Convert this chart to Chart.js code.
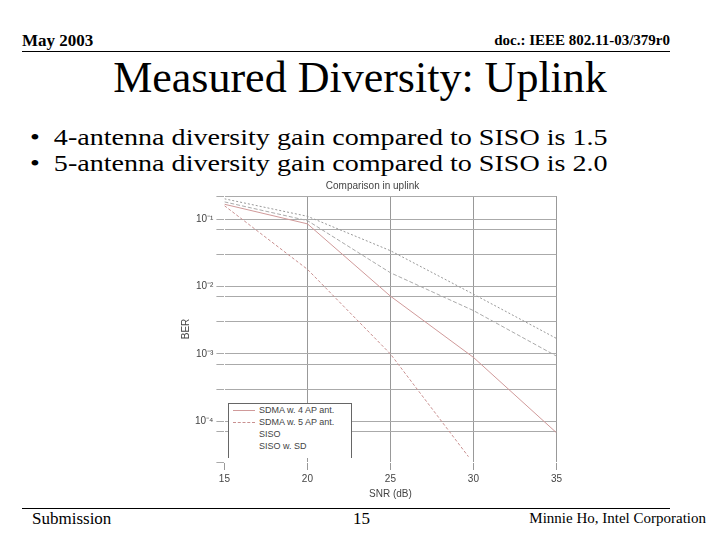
<!DOCTYPE html><html><head><script src="https://cdn.jsdelivr.net/npm/chart.js@4"></script>
<style>body{margin:0;width:720px;height:540px;background:#fff;font-family:"Liberation Serif",serif;position:relative;overflow:hidden}
.a{position:absolute;white-space:nowrap}
.b{transform:scaleX(1.17);transform-origin:0 0}
#lg{position:absolute;left:228px;top:403px;width:122px;height:54px;border:1px solid #666;border-bottom:none;background:#fff;font-family:"Liberation Sans";font-size:9px;color:#444}
#lg div{height:11px;line-height:11px;margin-top:1px;padding-left:4px}
#lg span{display:inline-block;width:22px;margin-right:4px;vertical-align:middle}</style></head><body>
<div class="a" style="left:22px;top:31px;font-size:17px;font-weight:bold">May 2003</div>
<div class="a" style="right:50px;top:32px;font-size:15px;font-weight:bold">doc.: IEEE 802.11-03/379r0</div>
<div class="a" style="left:22px;top:51px;width:648px;border-top:1px solid #000"></div>
<div class="a" style="left:0;width:720px;text-align:center;top:52px;font-size:44px">Measured Diversity: Uplink</div>
<div class="a b" style="left:30px;top:124px;font-size:24px">•&nbsp; 4-antenna diversity gain compared to SISO is 1.5</div>
<div class="a b" style="left:30px;top:150px;font-size:24px">•&nbsp; 5-antenna diversity gain compared to SISO is 2.0</div>
<div class="a" style="left:22px;top:508px;width:648px;border-top:1px solid #000"></div>
<div class="a" style="left:32px;top:509px;font-size:17px">Submission</div>
<div class="a" style="left:353px;top:509px;font-size:17px">15</div>
<div class="a" style="right:14px;top:510px;font-size:15px">Minnie Ho, Intel Corporation</div>
<div class="a" style="left:180px;top:180px;width:385px;height:320px"><canvas id="c"></canvas></div>
<div id="lg"></div>
<script>
const snr=[15,20,25,30,35];
const sdma4=[0.166,0.085,0.0072,0.00089,0.000068];
const siso=[0.2,0.11,0.034,0.0077,0.0017];
const sisoSD=[0.18,0.095,0.016,0.0044,0.00093];
const names=['SDMA w. 4 AP ant.','SDMA w. 5 AP ant.','SISO','SISO w. SD'];
const sdma5x=[15,20,25,29.7];
const sdma5v=[0.158,0.018,0.001,0.00003];
const mk=(l,x,y,c,d)=>({label:l,data:x.map((v,i)=>({x:v,y:y[i]})),borderColor:c,borderWidth:1,borderDash:d,pointRadius:0,tension:0,fill:false});
const ds=[mk(names[0],snr,sdma4,'#d09a9a',[]),
mk(names[1],sdma5x,sdma5v,'#c99090',[3,2]),
mk(names[2],snr,siso,'#999',[2,2]),
mk(names[3],snr,sisoSD,'#aaa',[4,2])];
document.getElementById('lg').innerHTML=ds.map((d,i)=>`<div><span style="border-top:1px ${i==0?'solid':'dashed'} ${i<2?d.borderColor:'#fff'}"></span>${d.label}</div>`).join('');
const sup={'-1':'⁻¹','-2':'⁻²','-3':'⁻³','-4':'⁻⁴'};
const f={size:10,family:'Liberation Sans'};
new Chart(document.getElementById('c'),{type:'line',data:{datasets:ds},
options:{animation:false,responsive:true,maintainAspectRatio:false,
plugins:{title:{display:true,text:'Comparison in uplink',color:'#444',font:{...f,weight:'normal'},padding:{top:0,bottom:4}},legend:{display:false}},
scales:{x:{type:'linear',min:15,max:35,ticks:{stepSize:5,color:'#444',font:f},grid:{color:'#999',borderDash:[2,2]},border:{color:'#fff'},title:{display:true,text:'SNR (dB)',color:'#444',font:f,padding:0}},
y:{type:'logarithmic',min:0.000025,max:0.22,ticks:{color:'#444',font:f,callback:v=>{const l=Math.log10(v);return Math.abs(l-Math.round(l))<1e-6?'10'+sup[Math.round(l)]:''}},grid:{color:'#aaa',borderDash:[2,2]},border:{color:'#fff'},title:{display:true,text:'BER',color:'#444',font:f,padding:0}}}}});
</script></body></html>
